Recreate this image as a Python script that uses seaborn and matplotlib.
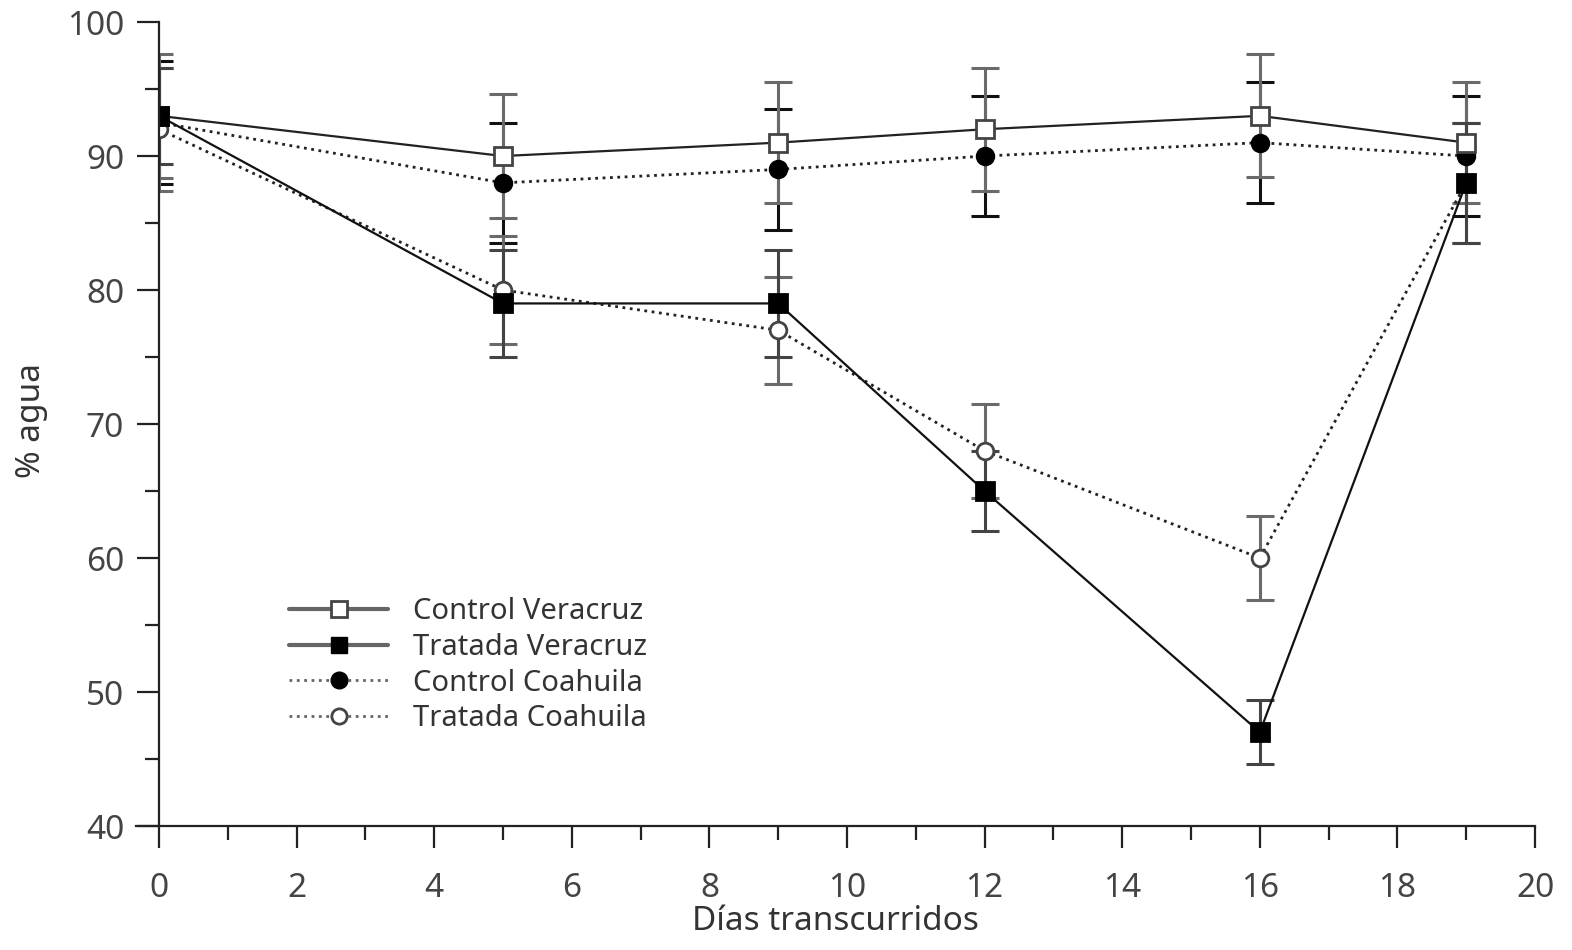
import pandas as pd
import numpy as np
import matplotlib
matplotlib.use("Agg")
import matplotlib.pyplot as plt
from matplotlib.lines import Line2D
from matplotlib.patches import Rectangle
import seaborn as sns

# data
dias = [0, 5, 9, 12, 16, 19]
control_veracruz = [93, 90, 91, 92, 93, 91]
tratada_veracruz = [93, 79, 79, 65, 47, 88]
control_coahuila = [92.5, 88, 89, 90, 91, 90]
tratada_coahuila = [92, 80, 77, 68, 60, 88]

err_control_veracruz = [4.65, 4.6, 4.5, 4.6, 4.6, 4.5]
err_tratada_veracruz = [3.6, 4.0, 4.0, 3.0, 2.4, 4.5]
err_control_coahuila = [4.6, 4.5, 4.5, 4.5, 4.5, 4.5]
err_tratada_coahuila = [4.6, 4.0, 4.0, 3.5, 3.1, 4.5]

labels = ["Control Veracruz", "Tratada Veracruz", "Control Coahuila", "Tratada Coahuila"]

sns.set_style("white")
plt.rcParams['font.family'] = ['Noto Sans', 'DejaVu Sans']

fig = plt.figure(figsize=(15.72, 9.5), dpi=100)
ax = fig.add_axes([0.0865, 0.1305, 0.8900, 0.8463])

series = [
    # name, values, errors, linestyle, marker, face, edge, line color, err color
    (labels[2], control_coahuila, err_control_coahuila, ':', 'o', 'black', 'black', '#222222', '#111111'),
    (labels[3], tratada_coahuila, err_tratada_coahuila, ':', 'o', 'white', '#444444', '#222222', '#6a6a6a'),
    (labels[0], control_veracruz, err_control_veracruz, '-', 's', 'white', '#444444', '#222222', '#6a6a6a'),
    (labels[1], tratada_veracruz, err_tratada_veracruz, '-', 's', 'black', 'black', '#111111', '#444444'),
]

# the data area starts at x = 0 (left spine sits there)
clip = Rectangle((0, 30), 25, 80, transform=ax.transData)

for name, vals, errs, ls, mk, fc, ec, lc, erc in series:
    eb = ax.errorbar(dias, vals, yerr=errs, fmt='none', ecolor=erc, elinewidth=2.2,
                     capsize=10, capthick=2.2, zorder=2)
    for art in eb.lines[1] + eb.lines[2]:
        art.set_clip_path(clip)
    df = pd.DataFrame({'dias': dias, 'agua': vals})
    sns.lineplot(data=df, x='dias', y='agua', ax=ax, color=lc, linestyle=ls,
                 linewidth=1.6 if ls == '-' else 2.0, marker=mk,
                 markersize=13 if mk == 's' else 12, markerfacecolor=fc,
                 markeredgecolor=ec, markeredgewidth=2, zorder=3)
    ax.lines[-1].set_clip_path(clip)

ax.set_xlim(-0.334, 20)
ax.set_ylim(40, 100)
ax.spines['left'].set_position(('data', 0))
ax.spines['top'].set_visible(False)
ax.spines['right'].set_visible(False)
for s in ['left', 'bottom']:
    ax.spines[s].set_linewidth(1.6)
    ax.spines[s].set_color('#222222')
    ax.spines[s].set_zorder(4)

ax.set_xticks(np.arange(0, 21, 2))
ax.set_xticks(np.arange(1, 20, 2), minor=True)
ax.set_yticks(np.arange(40, 101, 10))
ax.set_yticks(np.arange(45, 100, 10), minor=True)
ax.tick_params(which='major', direction='out', length=16, width=1.6, color='#222222',
               labelsize=24, labelcolor='#444444', pad=9, left=True, bottom=True)
ax.tick_params(which='major', axis='x', pad=17)
ax.tick_params(which='minor', direction='out', length=10, width=1.6, color='#222222',
               left=True, bottom=True)

ax.set_xlabel('Días transcurridos', fontsize=24, color='#333333', labelpad=0)
ax.set_ylabel('% agua', fontsize=24, color='#333333')
ax.yaxis.set_label_coords(-0.063, 0.505)

handles = [
    Line2D([], [], color='#666666', lw=3, ls='-', marker='s', markersize=12,
           markerfacecolor='white', markeredgecolor='#444444', markeredgewidth=2),
    Line2D([], [], color='#666666', lw=3, ls='-', marker='s', markersize=12,
           markerfacecolor='black', markeredgecolor='black'),
    Line2D([], [], color='#666666', lw=2, ls=':', marker='o', markersize=12,
           markerfacecolor='black', markeredgecolor='black'),
    Line2D([], [], color='#666666', lw=2, ls=':', marker='o', markersize=11,
           markerfacecolor='white', markeredgecolor='#444444', markeredgewidth=2),
]
leg = ax.legend(handles, labels, loc='upper left', bbox_to_anchor=(0.095, 0.31),
                frameon=False, fontsize=21, handlelength=3.4, handletextpad=0.85,
                labelspacing=0.23, borderpad=0.2)
for t in leg.get_texts():
    t.set_color('#333333')

fig.savefig('out.png', dpi=100)
